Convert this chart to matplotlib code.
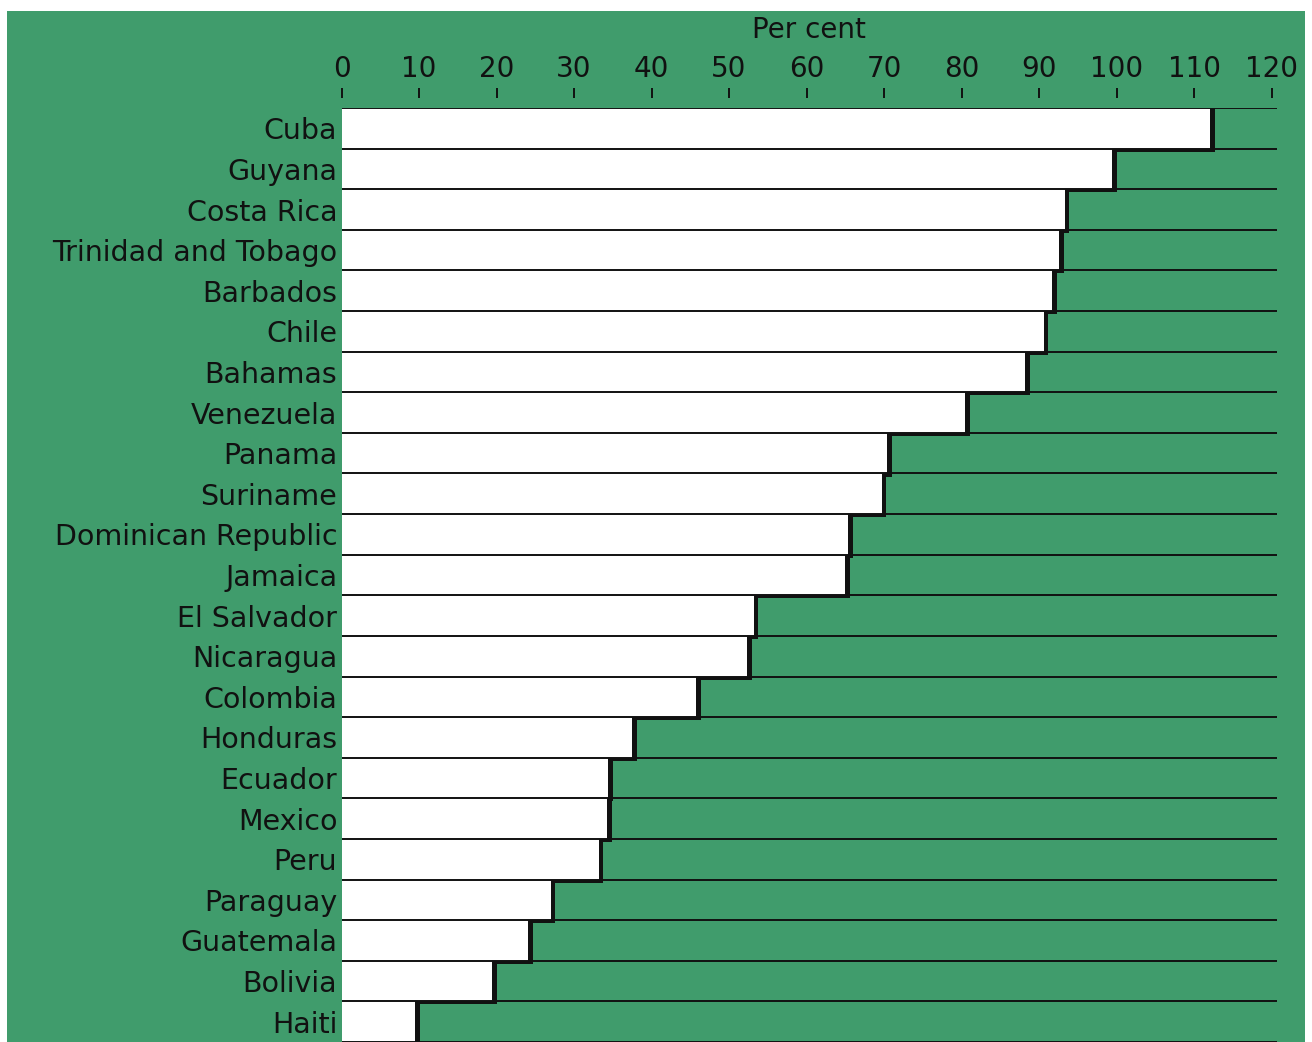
import matplotlib
matplotlib.use("Agg")
import matplotlib.pyplot as plt
from matplotlib.patches import Rectangle

countries = ["Cuba", "Guyana", "Costa Rica", "Trinidad and Tobago", "Barbados",
             "Chile", "Bahamas", "Venezuela", "Panama", "Suriname",
             "Dominican Republic", "Jamaica", "El Salvador", "Nicaragua",
             "Colombia", "Honduras", "Ecuador", "Mexico", "Peru", "Paraguay",
             "Guatemala", "Bolivia", "Haiti"]
per_cent = [112.1, 99.4, 93.3, 92.6, 91.7, 90.6, 88.2, 80.5, 70.4, 69.7,
            65.4, 65.0, 53.2, 52.3, 45.8, 37.5, 34.4, 34.3, 33.2, 27.0,
            24.1, 19.4, 9.5]
ticks = list(range(0, 121, 10))

GREEN = "#409c6c"
INK = "#111111"
FONT = "DejaVu Sans"
W, H = 1312, 1042

fig = plt.figure(figsize=(W / 100, H / 100), dpi=100, facecolor="white")
# green card behind the chart
fig.patches.append(Rectangle((7 / W, 0), (1305 - 7) / W, (H - 11) / H,
                             transform=fig.transFigure, facecolor=GREEN,
                             edgecolor="none", zorder=-10))

left, right, top = 341.5 / W, 1277 / W, (H - 108) / H
ax = fig.add_axes([left, 0, right - left, top])
ax.set_facecolor("none")
ax.set_zorder(1)

n = len(countries)
ys = list(range(n))

# black drop shadow (right side + bottom), then white bars over it
ax.barh(ys, [v + 0.6 for v in per_cent], height=1.0, color=INK,
        edgecolor="none", zorder=1)
for y, v in zip(ys, per_cent):
    ax.add_patch(Rectangle((0, y + 0.5), v + 0.6, 0.075, facecolor=INK,
                           edgecolor="none", zorder=1.5))
ax.barh(ys, per_cent, height=1.0, color="white", edgecolor="none", zorder=2)

# row boundary lines across the whole width
for b in [y - 0.5 for y in ys] + [n - 0.5]:
    ax.axhline(b, color=INK, lw=1.4, zorder=3)

ax.set_xlim(0, 120.7)
ax.set_ylim(n - 0.5, -0.5)

ax.xaxis.tick_top()
ax.xaxis.set_label_position("top")
ax.set_xticks(ticks, [str(t) for t in ticks])
ax.tick_params(axis="x", direction="out", length=7.2, width=1.4,
               color=INK, pad=4, labelsize=20, labelcolor=INK,
               labelfontfamily=FONT)
ax.spines["top"].set_position(("outward", 7))
ax.set_xlabel("Per cent", fontsize=20, family=FONT, color=INK, labelpad=12)

ax.set_yticks(ys, countries)
ax.tick_params(axis="y", length=0, pad=3, labelsize=20.5, labelcolor=INK,
               labelfontfamily=FONT)

for s in ax.spines.values():
    s.set_visible(False)

fig.savefig("out.png", dpi=100, facecolor="white")
